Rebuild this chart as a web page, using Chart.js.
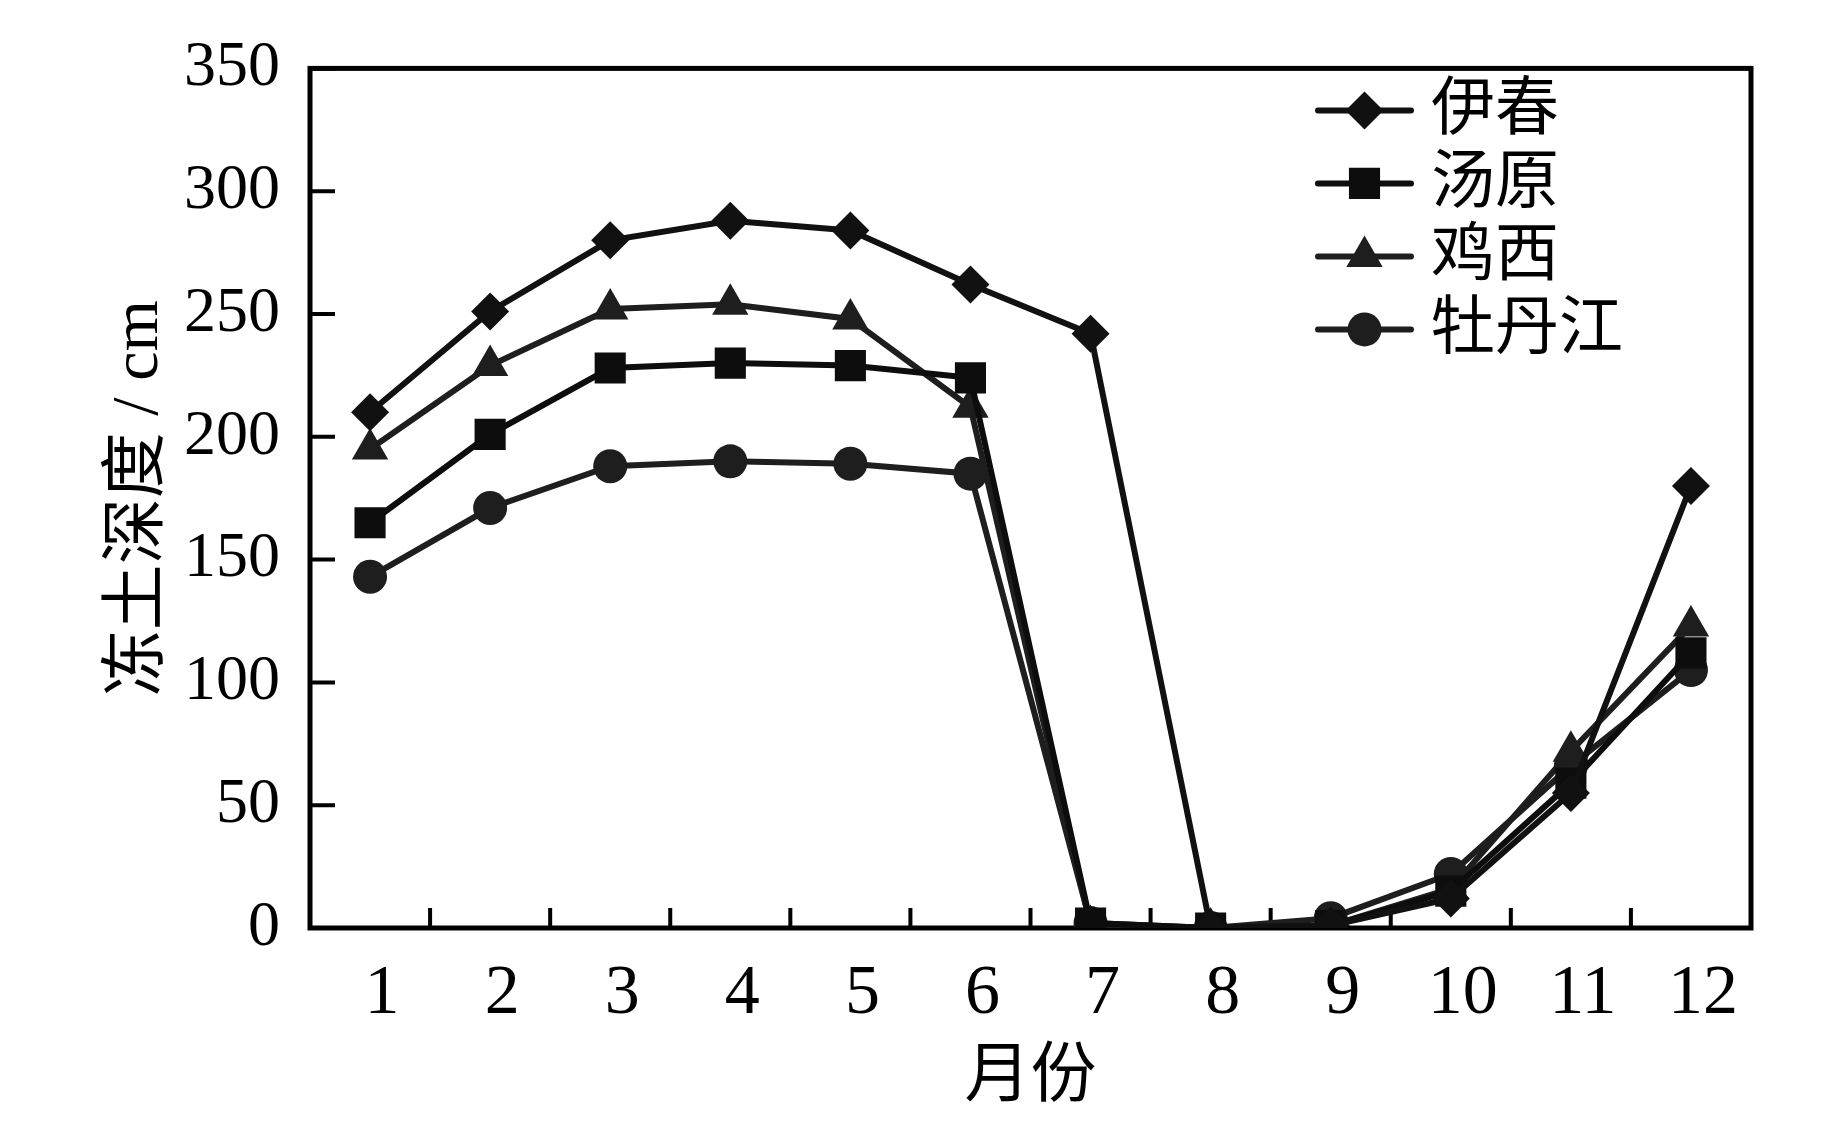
<!DOCTYPE html>
<html>
<head>
<meta charset="utf-8">
<script src="https://cdn.jsdelivr.net/npm/chart.js@4.4.1/dist/chart.umd.min.js"></script>
<style>
  html, body { margin: 0; padding: 0; background: #ffffff; }
  #wrap { width: 1843px; height: 1134px; position: relative; }
</style>
</head>
<body>
<div id="wrap"><canvas id="c"></canvas></div>
<script>
// ---- data ----
const months = ['1', '2', '3', '4', '5', '6', '7', '8', '9', '10', '11', '12'];
const seriesNames = ['伊春', '汤原', '鸡西', '牡丹江'];
const yichun     = [210, 251, 280, 288, 284, 262, 242, 0, 1, 12, 55, 180];
const tangyuan   = [165, 201, 228, 230, 229, 224, 2, 0, 1, 15, 59, 112];
const jixi       = [195, 229, 252, 254, 248, 212, 1, 0, 1, 16, 72, 123];
const mudanjiang = [143, 171, 188, 190, 189, 185, 2, 0, 4, 22, 66, 105];
const yMin = 0, yMax = 350, yStep = 50;
const xTitle = '月份';
const yTitle = '冻土深度 / cm';

const serif = '"Liberation Serif", "Times New Roman", "Noto Sans CJK SC", serif';

const frame = {
  id: 'frame',
  beforeDatasetsDraw(chart) {
    const ctx = chart.ctx, ca = chart.chartArea;
    const xs = chart.scales.x, ys = chart.scales.y;
    ctx.save();
    ctx.strokeStyle = '#000';
    ctx.lineWidth = 5;
    ctx.lineCap = 'square';
    ctx.strokeRect(ca.left, ca.top, ca.right - ca.left, ca.bottom - ca.top);
    ctx.lineWidth = 4;
    ctx.lineCap = 'butt';
    ctx.beginPath();
    for (let i = 1; i < months.length; i++) {
      const px = (xs.getPixelForTick(i - 1) + xs.getPixelForTick(i)) / 2;
      ctx.moveTo(px, ca.bottom);
      ctx.lineTo(px, ca.bottom - 20);
    }
    ys.ticks.forEach(t => {
      const py = ys.getPixelForValue(t.value);
      ctx.moveTo(ca.left, py);
      ctx.lineTo(ca.left + 25, py);
    });
    ctx.stroke();
    ctx.restore();
  }
};

const legendPlugin = {
  id: 'customLegend',
  afterDraw(chart) {
    const ctx = chart.ctx, ca = chart.chartArea;
    const x0 = ca.right - 433, x1 = x0 + 93, xm = (x0 + x1) / 2;
    const yStart = ca.top + 42, rowH = 73;
    ctx.save();
    chart.data.datasets.forEach((ds, i) => {
      const y = yStart + i * rowH;
      ctx.strokeStyle = ds.borderColor;
      ctx.lineWidth = 6;
      ctx.lineCap = 'round';
      ctx.beginPath();
      ctx.moveTo(x0, y);
      ctx.lineTo(x1, y);
      ctx.stroke();
      ctx.fillStyle = ds.pointBackgroundColor;
      Chart.helpers.drawPoint(ctx, {
        pointStyle: ds.pointStyle, radius: ds.pointRadius, rotation: 0, borderWidth: 0
      }, xm, y);
      ctx.fillStyle = '#000';
      ctx.font = '64px ' + serif;
      ctx.textAlign = 'left';
      ctx.textBaseline = 'middle';
      ctx.fillText(ds.label, x1 + 20, y + 2);
    });
    ctx.restore();
  }
};

function mk(label, data, style, radius, color) {
  return {
    label, data,
    borderColor: color, backgroundColor: color,
    pointBackgroundColor: color, pointBorderColor: color,
    pointBorderWidth: 0,
    pointStyle: style, pointRadius: radius, pointHoverRadius: radius,
    borderWidth: 6, tension: 0, fill: false
  };
}

new Chart(document.getElementById('c'), {
  type: 'line',
  data: {
    labels: months,
    datasets: [
      mk(seriesNames[0], yichun, 'rectRot', 19, '#111111'),
      mk(seriesNames[1], tangyuan, 'rect', 22, '#0d0d0d'),
      mk(seriesNames[2], jixi, 'triangle', 21, '#1e1e1e'),
      mk(seriesNames[3], mudanjiang, 'circle', 17, '#1e1e1e')
    ]
  },
  options: {
    responsive: true,
    maintainAspectRatio: false,
    devicePixelRatio: 1,
    animation: false,
    layout: { padding: { left: 0, top: 60, right: 92, bottom: 0 } },
    plugins: { legend: { display: false }, tooltip: { enabled: false } },
    scales: {
      x: {
        type: 'category',
        offset: true,
        grid: { display: false, drawTicks: false },
        border: { display: false },
        ticks: {
          color: '#000', padding: 25, labelOffset: 12, maxRotation: 0, autoSkip: false,
          font: { family: serif, size: 70 }
        },
        title: {
          display: true, text: xTitle, color: '#000',
          font: { family: serif, size: 66 }, padding: { top: 0, bottom: 16 }
        },
        afterFit(s) { s.height = 206; }
      },
      y: {
        min: yMin, max: yMax,
        grid: { display: false, drawTicks: false },
        border: { display: false },
        ticks: {
          stepSize: yStep, color: '#000', padding: 30,
          font: { family: serif, size: 64 }
        },
        title: {
          display: true, text: yTitle, color: '#000',
          font: { family: serif, size: 66 }, padding: { top: 100, bottom: 0 }
        },
        afterFit(s) { s.width = 310; }
      }
    }
  },
  plugins: [frame, legendPlugin]
});
</script>
</body>
</html>
